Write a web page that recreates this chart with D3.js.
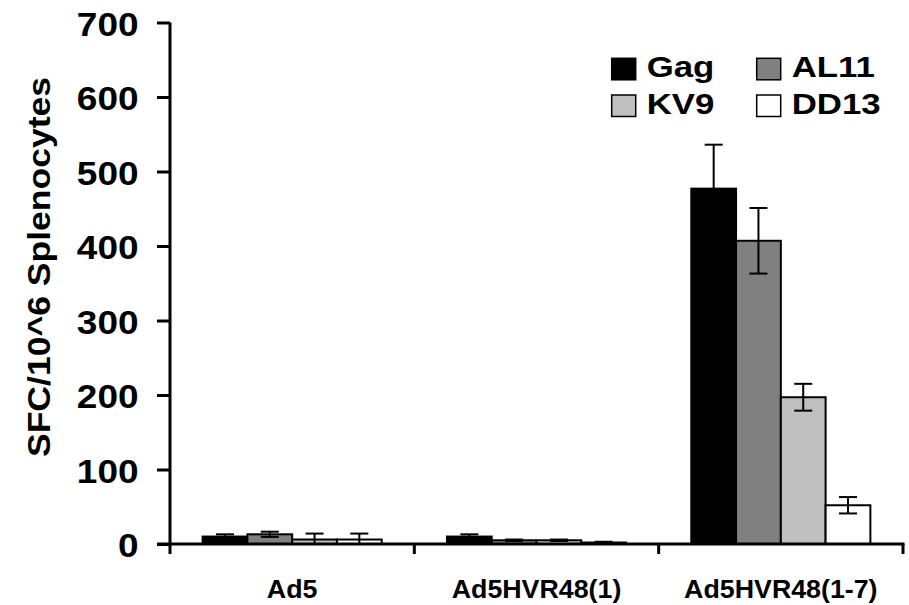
<!DOCTYPE html>
<html>
<head>
<meta charset="utf-8">
<script src="https://cdn.jsdelivr.net/npm/d3@7"></script>
<style>
  html, body { margin: 0; padding: 0; background: #fff; }
  svg { display: block; }
  text { font-family: Arial, "Liberation Sans", sans-serif; font-weight: bold; fill: #000; }
</style>
</head>
<body>
<svg id="chart" width="909" height="605"></svg>
<script>
// Vectors along the x axis
const categories = ["Ad5", "Ad5HVR48(1)", "Ad5HVR48(1-7)"];
// Epitope / antigen series
const series = ["Gag", "AL11", "KV9", "DD13"];
const seriesColors = ["#000000", "#808080", "#c0c0c0", "#ffffff"];
// Mean SFC per 10^6 splenocytes, one array per series (order follows categories)
const gagValues  = [10, 10, 477];
const al11Values = [13, 5, 407];
const kv9Values  = [6, 5, 197];
const dd13Values = [6, 2, 52];
// Error (± SEM) for each bar
const gagErr  = [3, 3, 59];
const al11Err = [3.5, 1, 44];
const kv9Err  = [8, 1, 18];
const dd13Err = [8, 1, 11];
// Y axis ticks
const yTicks = [0, 100, 200, 300, 400, 500, 600, 700];

const valueTable = [gagValues, al11Values, kv9Values, dd13Values];
const errTable = [gagErr, al11Err, kv9Err, dd13Err];

const svg = d3.select("#chart");

const plotLeft = 170, plotRight = 903, plotTop = 22.5, plotBottom = 544;

const x0 = d3.scaleBand().domain(categories).range([plotLeft, plotRight])
  .paddingInner(0.267).paddingOuter(0.1335);
const x1 = d3.scaleBand().domain(series).range([0, x0.bandwidth()]);
const y = d3.scaleLinear().domain([0, 700]).range([plotBottom, plotTop]);
const color = d3.scaleOrdinal().domain(series).range(seriesColors);

// Stretch text horizontally by a factor using textLength
function stretch(sel, k) {
  sel.each(function () {
    const w = this.getComputedTextLength();
    d3.select(this).attr("textLength", w * k).attr("lengthAdjust", "spacingAndGlyphs");
  });
}

// Flatten data for the bars
const bars = [];
categories.forEach((c, ci) => {
  series.forEach((s, si) => {
    bars.push({ cat: c, s: s, v: valueTable[si][ci], e: errTable[si][ci] });
  });
});

// Bars
svg.append("g").selectAll("rect").data(bars).join("rect")
  .attr("x", d => x0(d.cat) + x1(d.s))
  .attr("y", d => y(d.v))
  .attr("width", x1.bandwidth())
  .attr("height", d => y(0) - y(d.v))
  .attr("fill", d => color(d.s))
  .attr("stroke", "#000")
  .attr("stroke-width", 2);

// Error bars
const capW = 18;
const eg = svg.append("g").attr("stroke", "#000").attr("stroke-width", 2);
bars.forEach(d => {
  const cx = x0(d.cat) + x1(d.s) + x1.bandwidth() / 2;
  const yHi = y(d.v + d.e), yLo = y(Math.max(d.v - d.e, 0));
  eg.append("line").attr("x1", cx).attr("x2", cx).attr("y1", yHi).attr("y2", yLo);
  eg.append("line").attr("x1", cx - capW / 2).attr("x2", cx + capW / 2).attr("y1", yHi).attr("y2", yHi);
  eg.append("line").attr("x1", cx - capW / 2).attr("x2", cx + capW / 2).attr("y1", yLo).attr("y2", yLo);
});

// Y axis
const yAxis = svg.append("g").attr("transform", `translate(${plotLeft},0)`)
  .call(d3.axisLeft(y).tickValues(yTicks).tickSize(13).tickPadding(0).tickFormat(d3.format("d")));
yAxis.select(".domain").remove();
yAxis.selectAll(".tick line").attr("stroke", "#000").attr("stroke-width", 3);
yAxis.selectAll(".tick text")
  .attr("x", -31.5).attr("dy", "0.38em")
  .attr("font-size", 33).attr("text-anchor", "end")
  .call(stretch, 1.12);
svg.append("line").attr("x1", plotLeft).attr("x2", plotLeft).attr("y1", plotTop).attr("y2", plotBottom + 10)
  .attr("stroke", "#000").attr("stroke-width", 3);

// X axis
const xAxis = svg.append("g").attr("transform", `translate(0,${plotBottom})`);
xAxis.append("line").attr("x1", plotLeft - 13).attr("x2", plotRight + 1.5).attr("y1", 0).attr("y2", 0)
  .attr("stroke", "#000").attr("stroke-width", 3);
const xTickPos = categories.map(c => x0(c) - x0.step() * x0.paddingOuter()).concat([plotRight]);
xAxis.selectAll("line.xt").data(xTickPos.slice(1)).join("line").attr("class", "xt")
  .attr("x1", d => d).attr("x2", d => d).attr("y1", 0).attr("y2", 10)
  .attr("stroke", "#000").attr("stroke-width", 3);
xAxis.selectAll("text").data(categories).join("text")
  .attr("x", d => x0(d) + x0.bandwidth() / 2).attr("y", 54)
  .attr("text-anchor", "middle").attr("font-size", 25.5)
  .text(d => d)
  .call(stretch, 1.05);

// Y axis title
svg.append("text")
  .attr("transform", "translate(50,267) rotate(-90)")
  .attr("text-anchor", "middle").attr("font-size", 32)
  .text("SFC/10^6 Splenocytes")
  .call(stretch, 1.11);

// Legend
const legendPos = [[611.7, 58.3], [756.7, 58.3], [611.7, 95], [756.7, 95]];
const lg = svg.append("g");
series.forEach((s, i) => {
  const [lx, ly] = legendPos[i];
  lg.append("rect").attr("x", lx).attr("y", ly).attr("width", 24).attr("height", 21.5)
    .attr("fill", color(s)).attr("stroke", "#000").attr("stroke-width", 1.5);
  lg.append("text").attr("x", lx + 35).attr("y", ly + 18.5)
    .attr("font-size", 29.5).text(s).call(stretch, 1.18);
});
</script>
</body>
</html>
